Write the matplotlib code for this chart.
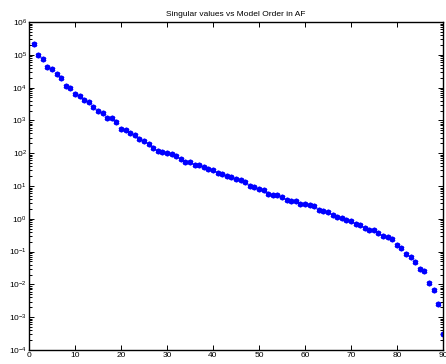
import numpy as np
import matplotlib
matplotlib.use('Agg')
import matplotlib.pyplot as plt

plt.rcParams['font.family'] = ['Liberation Sans', 'DejaVu Sans']
plt.rcParams['mathtext.fontset'] = 'custom'
plt.rcParams['mathtext.rm'] = 'Liberation Sans'
plt.rcParams['mathtext.it'] = 'Liberation Sans:italic'
plt.rcParams['mathtext.bf'] = 'Liberation Sans:bold'

# Model order index
order = np.arange(1, 91)

# log10 of the singular values, one per model order
log_sv = [
    5.33, 5.00, 4.87, 4.63, 4.57, 4.41, 4.28, 4.05, 4.00, 3.81,
    3.74, 3.61, 3.57, 3.40, 3.30, 3.23, 3.08, 3.06, 2.95, 2.75,
    2.72, 2.61, 2.55, 2.43, 2.36, 2.28, 2.17, 2.06, 2.03, 2.00,
    1.97, 1.92, 1.81, 1.74, 1.73, 1.63, 1.63, 1.57, 1.53, 1.48,
    1.39, 1.38, 1.31, 1.27, 1.21, 1.17, 1.12, 1.00, 0.98, 0.91,
    0.89, 0.77, 0.73, 0.72, 0.67, 0.57, 0.54, 0.54, 0.46, 0.44,
    0.41, 0.38, 0.26, 0.24, 0.20, 0.11, 0.05, 0.015, -0.05, -0.08,
    -0.16, -0.20, -0.29, -0.35, -0.35, -0.44, -0.52, -0.56, -0.61, -0.81,
    -0.90, -1.06, -1.17, -1.32, -1.53, -1.59, -1.97, -2.18, -2.60, -3.52,
]
sv = 10.0 ** np.array(log_sv)

fig = plt.figure(figsize=(4.46, 3.64), dpi=100)
ax = fig.add_axes([0.065, 0.0385, 0.928, 0.901])

# asterisk markers, MATLAB style
ax.semilogy(order, sv, linestyle='none', marker=(6, 2, 0), markersize=4,
            color='blue', markeredgewidth=1.3)

ax.set_xlim(0, 90)
ax.set_ylim(1e-4, 1e6)
ax.set_xticks(np.arange(0, 91, 10))
ax.set_title('Singular values vs Model Order in AF', fontsize=6, pad=4)

ax.tick_params(which='both', direction='in', top=True, right=True,
               labelsize=6, width=0.7)
ax.tick_params(which='major', length=3.5, pad=1.5)
ax.tick_params(which='minor', length=2)
for s in ax.spines.values():
    s.set_linewidth(1.0)

fig.savefig('out.png', dpi=100)
